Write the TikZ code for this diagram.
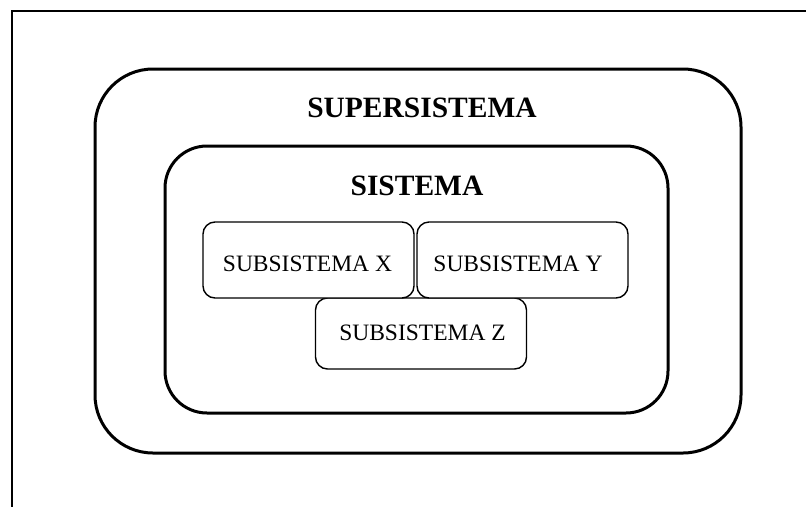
\documentclass[tikz,border=0pt]{standalone}
\usepackage{fontspec}
\setmainfont{Liberation Serif}
\begin{document}
\begin{tikzpicture}[x=1pt,y=-1pt,
  bigbox/.style={draw=black,line width=3pt,rounded corners=58pt},
  midbox/.style={draw=black,line width=3pt,rounded corners=42pt},
  subbox/.style={draw=black,line width=1.4pt,rounded corners=12pt,fill=white,
    minimum width=211pt,inner sep=0pt},
  subtext/.style={inner sep=0pt,font=\fontsize{23.5}{28}\selectfont},
  title/.style={font=\fontsize{29.5}{34}\selectfont\bfseries,inner sep=0pt}]
\useasboundingbox (0,0) rectangle (806,507);
\coordinate (ftl) at (12,11);
\coordinate (ftr) at (806,11);
\coordinate (fbl) at (12,507);
\draw[line width=1.4pt] (ftr) -- (ftl) -- (fbl);
\draw[bigbox] (95,69) rectangle (741,453);
\draw[midbox] (165,146) rectangle (668,413);
\node[title] (super) at (422,108) {SUPERSISTEMA};
\node[title] (sis) at (417,186) {SISTEMA};
\node[subbox,minimum height=71pt] (z) at (421,333.5) {};
\node[subbox,minimum height=76pt] (x) at (308.5,260) {};
\node[subbox,minimum height=76pt] (y) at (522.5,260) {};
\node[subtext] (xt) at (307.5,263.5) {SUBSISTEMA X};
\node[subtext] (yt) at (518,263.5) {SUBSISTEMA Y};
\node[subtext] (zt) at (422.5,332.5) {SUBSISTEMA Z};
\end{tikzpicture}
\end{document}
